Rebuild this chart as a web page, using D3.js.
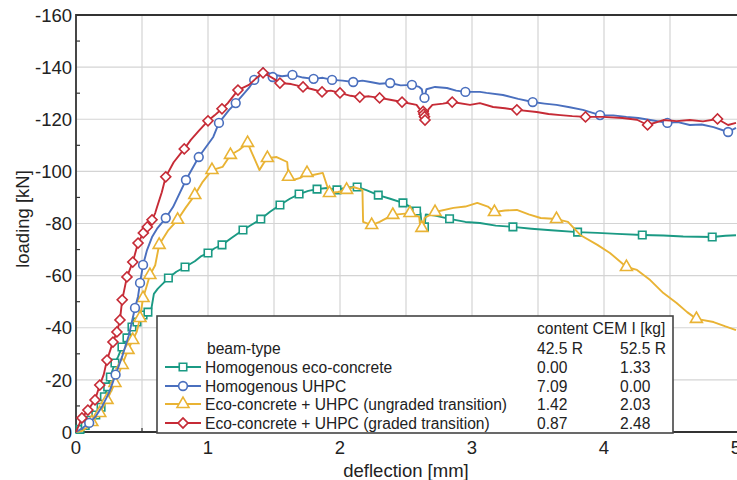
<!DOCTYPE html>
<html>
<head>
<meta charset="utf-8">
<script src="https://cdn.jsdelivr.net/npm/d3@7"></script>
<style>
  body { margin: 0; background: #fff; }
  text { font-family: "Liberation Sans", Arial, sans-serif; fill: #222; }
</style>
</head>
<body>
<div id="chart"></div>
<script>
var width = 737, height = 480;

// tick values
var xTicks = [0, 1, 2, 3, 4, 5];
var yTicks = [0, -20, -40, -60, -80, -100, -120, -140, -160];

// series names and legend table
var seriesNames = ["Homogenous eco-concrete", "Homogenous UHPC",
                   "Eco-concrete + UHPC (ungraded transition)", "Eco-concrete + UHPC (graded transition)"];
var cem425 = ["0.00", "7.09", "1.42", "0.87"];
var cem525 = ["1.33", "0.00", "2.03", "2.48"];

// [deflection mm, load kN]
var ecoLine = [[0,0],[0.03,-1],[0.07,-2.5],[0.11,-4.5],[0.15,-6.5],[0.19,-9.5],[0.215,-13.5],[0.24,-17.3],[0.26,-21.1],[0.295,-26.5],[0.32,-29],[0.348,-32.6],[0.386,-36.1],[0.424,-40.3],[0.462,-42.2],[0.508,-44.9],[0.545,-46.0],[0.57,-47],[0.59,-53],[0.62,-55],[0.66,-57],[0.70,-59.1],[0.76,-61.5],[0.826,-63.3],[0.9,-65.5],[0.95,-67.5],[1.0,-68.7],[1.05,-70.5],[1.106,-71.8],[1.18,-74.5],[1.265,-77.5],[1.33,-79.5],[1.40,-81.7],[1.47,-84.5],[1.545,-87.1],[1.62,-89.5],[1.69,-91.3],[1.76,-92.5],[1.826,-93.2],[1.9,-93.6],[1.977,-92.9],[2.05,-93.8],[2.13,-94.0],[2.2,-92.8],[2.29,-90.9],[2.38,-89.5],[2.477,-87.9],[2.53,-86.5],[2.58,-84.8],[2.61,-84],[2.62,-79],[2.64,-78.7],[2.65,-83.5],[2.72,-83.0],[2.83,-81.8],[2.95,-80.6],[3.06,-80.2],[3.18,-79.2],[3.31,-78.7],[3.45,-78.0],[3.6,-77.4],[3.80,-76.7],[3.95,-76.4],[4.1,-76.0],[4.29,-75.6],[4.45,-75.4],[4.6,-75.0],[4.82,-74.8],[4.92,-75.3],[5.0,-75.5]];
var ecoMarks = [[0.03,-1],[0.07,-2.5],[0.11,-4.5],[0.15,-6.5],[0.19,-9.5],[0.215,-13.5],[0.24,-17.3],[0.26,-21.1],[0.295,-26.5],[0.348,-32.6],[0.386,-36.1],[0.424,-40.3],[0.462,-42.2],[0.508,-44.9],[0.545,-46.0],[0.70,-59.1],[0.826,-63.3],[1.0,-68.7],[1.106,-71.8],[1.265,-77.5],[1.40,-81.7],[1.545,-87.1],[1.69,-91.3],[1.826,-93.2],[1.977,-92.9],[2.13,-94.0],[2.29,-90.9],[2.477,-87.9],[2.58,-84.8],[2.64,-78.7],[2.83,-81.8],[3.31,-78.7],[3.80,-76.7],[4.29,-75.6],[4.82,-74.8]];

var uhpcLine = [[0,0],[0.05,-1.5],[0.1,-3.5],[0.15,-6],[0.2,-10],[0.25,-15],[0.3,-22],[0.35,-29],[0.4,-37],[0.447,-47.6],[0.47,-52],[0.485,-57.2],[0.508,-64.1],[0.538,-69.8],[0.576,-74.8],[0.614,-78],[0.68,-82.1],[0.735,-86.3],[0.833,-96.7],[0.93,-105.5],[1.04,-113.2],[1.083,-118.6],[1.16,-123.6],[1.21,-126.2],[1.31,-132.0],[1.35,-135.1],[1.38,-135.8],[1.417,-139.7],[1.44,-137],[1.46,-137.8],[1.49,-136.2],[1.51,-137.0],[1.56,-136.5],[1.64,-137.0],[1.72,-136.0],[1.80,-135.5],[1.87,-135.9],[1.94,-135.1],[2.02,-134.8],[2.10,-134.3],[2.17,-134.8],[2.23,-134.3],[2.30,-133.6],[2.38,-133.9],[2.46,-133.0],[2.545,-133.2],[2.60,-132.4],[2.62,-131.5],[2.63,-128.5],[2.64,-128.2],[2.655,-131.5],[2.72,-132.4],[2.81,-132.0],[2.88,-131.0],[2.95,-130.5],[3.06,-130.5],[3.11,-130.1],[3.235,-129.3],[3.35,-127.8],[3.46,-126.6],[3.55,-126.0],[3.64,-125.5],[3.74,-124.6],[3.84,-123.6],[3.97,-121.6],[4.07,-121.5],[4.17,-120.9],[4.26,-120.5],[4.35,-119.7],[4.48,-118.6],[4.56,-118.9],[4.65,-117.8],[4.74,-118.0],[4.83,-117.0],[4.94,-115.1],[5.0,-116.7]];
var uhpcMarks = [[0.1,-3.5],[0.3,-22],[0.447,-47.6],[0.485,-57.2],[0.508,-64.1],[0.68,-82.1],[0.833,-96.7],[0.93,-105.5],[1.083,-118.6],[1.21,-126.2],[1.35,-135.1],[1.49,-136.2],[1.64,-137.0],[1.80,-135.5],[1.94,-135.1],[2.10,-134.3],[2.38,-133.9],[2.545,-133.2],[2.64,-128.2],[2.95,-130.5],[3.46,-126.6],[3.97,-121.6],[4.48,-118.6],[4.94,-115.1]];

var ungradedLine = [[0,0],[0.05,-0.5],[0.09,-2],[0.12,-3.8],[0.18,-7.3],[0.235,-12.3],[0.295,-18.8],[0.35,-25.7],[0.394,-31.5],[0.43,-35.3],[0.46,-38.4],[0.485,-43.7],[0.508,-51.4],[0.538,-56.4],[0.56,-60.2],[0.6,-64],[0.63,-71.8],[0.70,-77.5],[0.77,-81.4],[0.83,-86],[0.90,-90.9],[0.96,-96],[1.03,-100.5],[1.11,-101.7],[1.17,-106.3],[1.235,-108.2],[1.30,-110.9],[1.33,-107.4],[1.39,-100.5],[1.42,-103],[1.45,-105.1],[1.52,-105.5],[1.60,-103.6],[1.61,-97.9],[1.644,-96.7],[1.70,-97.5],[1.75,-99.4],[1.795,-98.6],[1.87,-99.4],[1.90,-94.8],[1.92,-91.7],[1.985,-92.1],[2.05,-92.9],[2.10,-94.0],[2.17,-92.9],[2.175,-80.6],[2.24,-79.4],[2.30,-80.6],[2.40,-83.3],[2.53,-84.0],[2.60,-82.5],[2.61,-77.5],[2.63,-78],[2.64,-82.1],[2.72,-84.4],[2.86,-86.0],[2.95,-86.5],[3.04,-87.9],[3.12,-86.5],[3.17,-84.4],[3.25,-85.0],[3.34,-85.2],[3.43,-83.5],[3.52,-82.1],[3.64,-81.7],[3.727,-80.6],[3.82,-75.6],[3.95,-71.8],[4.045,-68.7],[4.17,-63.3],[4.25,-62.2],[4.35,-58.3],[4.45,-53.3],[4.55,-49.5],[4.63,-46.0],[4.70,-43.4],[4.83,-42.2],[4.92,-40.5],[5.0,-39.1]];
var ungradedMarks = [[0.12,-3.8],[0.18,-7.3],[0.235,-12.3],[0.295,-18.8],[0.35,-25.7],[0.394,-31.5],[0.43,-35.3],[0.485,-43.7],[0.508,-51.4],[0.56,-60.2],[0.63,-71.8],[0.77,-81.4],[0.90,-90.9],[1.03,-100.5],[1.17,-106.3],[1.30,-110.9],[1.45,-105.1],[1.61,-97.9],[1.75,-99.4],[1.92,-91.7],[2.05,-92.9],[2.24,-79.4],[2.40,-83.3],[2.53,-84.0],[2.62,-78.3],[2.72,-84.4],[3.17,-84.4],[3.64,-81.7],[4.17,-63.3],[4.70,-43.4]];

var gradedLine = [[0,0],[0.045,-5.4],[0.09,-8.4],[0.144,-12.3],[0.18,-18.0],[0.21,-22],[0.235,-27.6],[0.28,-34.5],[0.31,-38.4],[0.333,-43.0],[0.35,-50.7],[0.386,-59.5],[0.43,-65.2],[0.47,-72.5],[0.51,-76.4],[0.54,-78.7],[0.576,-81.4],[0.6,-84],[0.614,-86.3],[0.65,-92],[0.68,-97.9],[0.74,-103.5],[0.82,-108.6],[0.87,-112.1],[0.93,-115.5],[1.0,-119.4],[1.05,-121.5],[1.106,-124.0],[1.15,-126.2],[1.227,-131.2],[1.31,-133.2],[1.36,-135.5],[1.417,-137.8],[1.45,-137.0],[1.50,-135.5],[1.545,-133.9],[1.63,-133.5],[1.72,-132.4],[1.79,-131.5],[1.864,-130.5],[1.93,-131.0],[2.0,-130.1],[2.08,-129.0],[2.15,-128.5],[2.22,-128.8],[2.30,-128.2],[2.38,-127.5],[2.47,-126.6],[2.58,-125.5],[2.62,-122.8],[2.63,-120.5],[2.644,-119.7],[2.655,-121.5],[2.67,-123.8],[2.70,-125.5],[2.78,-126.0],[2.85,-126.6],[2.985,-125.5],[3.06,-126.2],[3.16,-124.7],[3.25,-124.2],[3.34,-123.6],[3.49,-122.8],[3.58,-122.0],[3.67,-121.6],[3.76,-121.2],[3.86,-120.9],[3.99,-120.9],[4.14,-120.5],[4.25,-119.8],[4.33,-117.8],[4.45,-119.7],[4.55,-119.3],[4.65,-119.7],[4.75,-119.2],[4.86,-120.1],[4.94,-117.8],[5.0,-118.6]];
var gradedMarks = [[0.045,-5.4],[0.09,-8.4],[0.144,-12.3],[0.18,-18.0],[0.235,-27.6],[0.28,-34.5],[0.31,-38.4],[0.333,-43.0],[0.35,-50.7],[0.386,-59.5],[0.43,-65.2],[0.47,-72.5],[0.51,-76.4],[0.54,-78.7],[0.576,-81.4],[0.68,-97.9],[0.82,-108.6],[1.0,-119.4],[1.106,-124.0],[1.227,-131.2],[1.417,-137.8],[1.545,-133.9],[1.72,-132.4],[1.864,-130.5],[2.0,-130.1],[2.15,-128.5],[2.30,-128.2],[2.47,-126.6],[2.63,-123],[2.635,-122],[2.64,-121],[2.644,-119.7],[2.85,-126.6],[3.34,-123.6],[3.86,-120.9],[4.33,-117.8],[4.86,-120.1]];

var x = d3.scaleLinear().domain([0, 5]).range([76, 736]);
var y = d3.scaleLinear().domain([0, -160]).range([432, 15]);

var svg = d3.select("#chart").append("svg")
            .attr("width", width)
            .attr("height", height);

// grid: vertical every 0.5, horizontal every 20
svg.selectAll(".vgrid")
   .data(d3.range(0.5, 5, 0.5))
   .enter().append("line")
   .attr("x1", d => x(d)).attr("x2", d => x(d))
   .attr("y1", y(-160)).attr("y2", y(0))
   .style("stroke", "#d4d4d4").style("stroke-width", 1.2);
svg.selectAll(".hgrid")
   .data(yTicks.slice(1, -1))
   .enter().append("line")
   .attr("x1", x(0)).attr("x2", width)
   .attr("y1", d => y(d)).attr("y2", d => y(d))
   .style("stroke", "#d4d4d4").style("stroke-width", 1.2);

// minor ticks
svg.selectAll(".ytick")
   .data(d3.range(-10, -160, -20))
   .enter().append("line")
   .attr("x1", x(0)).attr("x2", x(0) + 4)
   .attr("y1", d => y(d)).attr("y2", d => y(d))
   .style("stroke", "#333").style("stroke-width", 1.2);
svg.selectAll(".xtick")
   .data(d3.range(0.5, 5, 1))
   .enter().append("line")
   .attr("x1", d => x(d)).attr("x2", d => x(d))
   .attr("y1", y(0)).attr("y2", y(0) - 4)
   .style("stroke", "#333").style("stroke-width", 1.2);

// frame
svg.append("path")
   .attr("d", "M" + width + "," + y(-160) + "H" + x(0) + "V" + y(0) + "H" + width)
   .style("fill", "none").style("stroke", "#333").style("stroke-width", 1.8);

// tick labels
svg.selectAll(".ylab")
   .data(yTicks)
   .enter().append("text")
   .attr("x", 72).attr("y", d => y(d)).attr("dy", "0.36em")
   .attr("text-anchor", "end")
   .style("font-size", "18.5px")
   .text(d => d);
svg.selectAll(".xlab")
   .data(xTicks)
   .enter().append("text")
   .attr("x", d => x(d)).attr("y", 447).attr("dy", "0.36em")
   .attr("text-anchor", "middle")
   .style("font-size", "18.5px")
   .text(d => d);

svg.append("text")
   .attr("x", 406).attr("y", 470).attr("dy", "0.36em")
   .attr("text-anchor", "middle")
   .style("font-size", "18.5px")
   .text("deflection [mm]");
svg.append("text")
   .attr("transform", "translate(22,219) rotate(-90)")
   .attr("dy", "0.36em")
   .attr("text-anchor", "middle")
   .style("font-size", "18.5px")
   .text("loading [kN]");

var series = [
  { line: ecoLine, marks: ecoMarks, color: "#1b9a84", shape: "square" },
  { line: ungradedLine, marks: ungradedMarks, color: "#e9b334", shape: "triangle" },
  { line: uhpcLine, marks: uhpcMarks, color: "#4a6fbe", shape: "circle" },
  { line: gradedLine, marks: gradedMarks, color: "#c62b36", shape: "diamond" }
];
var legendOrder = ["square", "circle", "triangle", "diamond"];

var line = d3.line().x(d => x(d[0])).y(d => y(d[1]));

function symbolPath(shape) {
  if (shape == "square") return d3.symbol(d3.symbolSquare, 56)();
  if (shape == "circle") return d3.symbol(d3.symbolCircle, 60)();
  if (shape == "triangle") return d3.symbol(d3.symbolTriangle, 62)();
  return d3.symbol(d3.symbolSquare, 50)();
}
function symbolRotate(shape) {
  return shape == "diamond" ? " rotate(45)" : "";
}

series.forEach(function(s) {
  svg.append("path")
     .attr("d", line(s.line))
     .style("fill", "none")
     .style("stroke", s.color)
     .style("stroke-width", 1.9)
     .style("stroke-linejoin", "round");
  svg.selectAll(null)
     .data(s.marks)
     .enter().append("path")
     .attr("d", symbolPath(s.shape))
     .attr("transform", d => "translate(" + x(d[0]) + "," + y(d[1]) + ")" + symbolRotate(s.shape))
     .style("fill", "#fff")
     .style("stroke", s.color)
     .style("stroke-width", 1.6);
});

// legend
var lg = svg.append("g");
lg.append("rect")
  .attr("x", 157).attr("y", 316).attr("width", 516).attr("height", 117)
  .style("fill", "#fff").style("stroke", "#444").style("stroke-width", 1.6);

var fs = "15.6px";
lg.append("text").attr("x", 537).attr("y", 328).attr("dy", "0.36em").style("font-size", fs).text("content CEM I [kg]");
lg.append("text").attr("x", 207).attr("y", 348).attr("dy", "0.36em").style("font-size", fs).text("beam-type");
lg.append("text").attr("x", 537).attr("y", 348).attr("dy", "0.36em").style("font-size", fs).text("42.5 R");
lg.append("text").attr("x", 620).attr("y", 348).attr("dy", "0.36em").style("font-size", fs).text("52.5 R");

var rowY = [367, 386, 404, 423];
legendOrder.forEach(function(shape, i) {
  var s = series.find(t => t.shape == shape);
  lg.append("line")
    .attr("x1", 165).attr("x2", 201).attr("y1", rowY[i]).attr("y2", rowY[i])
    .style("stroke", s.color).style("stroke-width", 2.2);
  lg.append("path")
    .attr("d", symbolPath(shape))
    .attr("transform", "translate(183," + rowY[i] + ")" + symbolRotate(shape))
    .style("fill", "#fff").style("stroke", s.color).style("stroke-width", 1.6);
  lg.append("text").attr("x", 205).attr("y", rowY[i]).attr("dy", "0.36em").style("font-size", fs).text(seriesNames[i]);
  lg.append("text").attr("x", 537).attr("y", rowY[i]).attr("dy", "0.36em").style("font-size", fs).text(cem425[i]);
  lg.append("text").attr("x", 620).attr("y", rowY[i]).attr("dy", "0.36em").style("font-size", fs).text(cem525[i]);
});
</script>
</body>
</html>
